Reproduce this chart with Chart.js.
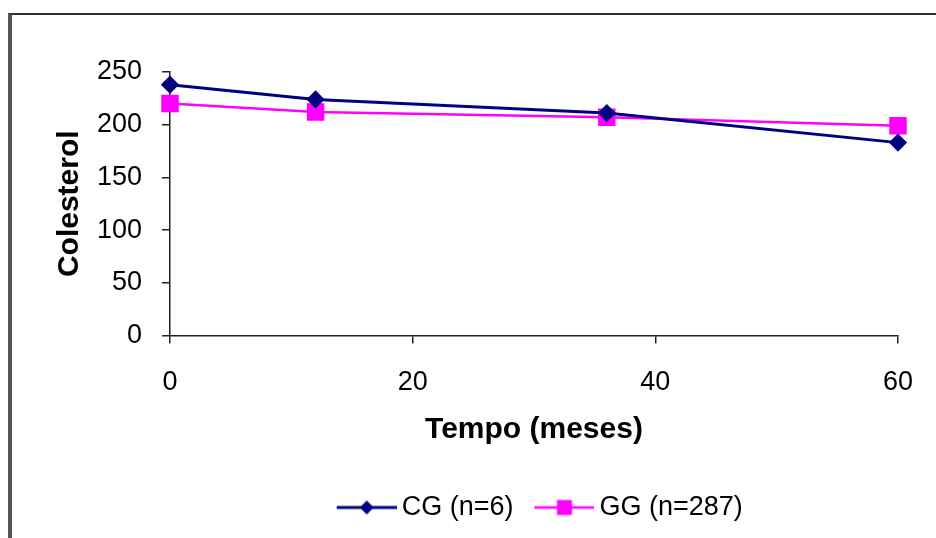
<!DOCTYPE html>
<html>
<head>
<meta charset="utf-8">
<script src="https://cdn.jsdelivr.net/npm/chart.js@4.4.1/dist/chart.umd.min.js"></script>
<style>
  html, body { margin: 0; padding: 0; background: #fff; overflow: hidden; }
  #wrap { position: relative; width: 936px; height: 538px; }
  #frame { position: absolute; left: 8px; top: 13px; width: 1000px; height: 600px;
           border-top: 2px solid #333; border-left: 4px solid #555; pointer-events: none; }
  canvas { position: absolute; left: 0; top: 0; }
</style>
</head>
<body>
<div id="wrap">
  <canvas id="c" width="936" height="538"></canvas>
  <div id="frame"></div>
</div>
<script>
const months = [0, 12, 36, 60];
const cgValues = [238, 224, 211, 183];
const ggValues = [220, 212, 207, 199];
const seriesNames = ['CG (n=6)', 'GG (n=287)'];
const xTitle = 'Tempo (meses)';
const yTitle = 'Colesterol';

const NAVY = '#000080';
const MAGENTA = '#FF00FF';
const FONT = '"Liberation Sans", Arial, sans-serif';

// legend sample: line + marker (transparent margin on the left)
function legendImage(color, style, lineW) {
  const cv = document.createElement('canvas');
  cv.width = 80; cv.height = 20;
  const g = cv.getContext('2d');
  g.strokeStyle = color; g.lineWidth = lineW;
  g.beginPath(); g.moveTo(20, 10); g.lineTo(80, 10); g.stroke();
  g.fillStyle = color;
  g.beginPath();
  if (style === 'diamond') {
    g.moveTo(50, 3); g.lineTo(57, 10); g.lineTo(50, 17); g.lineTo(43, 10); g.closePath();
  } else {
    g.rect(42.5, 2.5, 15, 15);
  }
  g.fill();
  return cv;
}
const legendImgs = [legendImage(NAVY, 'diamond', 3), legendImage(MAGENTA, 'square', 2.5)];

const toXY = (xs, ys) => xs.map((x, i) => ({x: x, y: ys[i]}));

new Chart(document.getElementById('c'), {
  type: 'line',
  data: {
    datasets: [
      { label: seriesNames[0], data: toXY(months, cgValues), borderColor: NAVY, backgroundColor: NAVY,
        borderWidth: 3, pointStyle: 'rectRot', pointRadius: 7, pointHoverRadius: 7, tension: 0, clip: false },
      { label: seriesNames[1], data: toXY(months, ggValues), borderColor: MAGENTA, backgroundColor: MAGENTA,
        borderWidth: 2.5, pointStyle: 'rect', pointRadius: 10.6, pointHoverRadius: 10.6, tension: 0, clip: false }
    ]
  },
  options: {
    responsive: false,
    animation: false,
    layout: { padding: { left: 0, right: 38, top: 72, bottom: 7 } },
    plugins: {
      tooltip: { enabled: false },
      legend: {
        position: 'bottom',
        fullSize: false,
        labels: {
          usePointStyle: true,
          pointStyleWidth: 63,
          padding: 9.5,
          color: '#000',
          font: { family: FONT, size: 27 },
          generateLabels: (chart) => {
            const items = Chart.defaults.plugins.legend.labels.generateLabels(chart);
            items.forEach((it, i) => { it.pointStyle = legendImgs[i]; });
            return items;
          }
        }
      }
    },
    scales: {
      x: {
        type: 'linear', min: 0, max: 60,
        afterFit: (s) => { s.height = 149; },
        ticks: { stepSize: 20, color: '#000', padding: 23, font: { family: FONT, size: 27 } },
        grid: { drawOnChartArea: false, drawTicks: true, tickLength: 8, color: '#222', lineWidth: 1.5 },
        border: { display: true, color: '#222', width: 1.5 },
        title: { display: true, text: xTitle, color: '#000', padding: { top: 0, bottom: 37 },
                 font: { family: FONT, size: 30, weight: 'bold' } }
      },
      y: {
        min: 0, max: 250,
        afterFit: (s) => { s.width = 170; },
        ticks: { stepSize: 50, color: '#000', padding: 20, font: { family: FONT, size: 27 } },
        grid: { drawOnChartArea: false, drawTicks: true, tickLength: 8, color: '#222', lineWidth: 1.5 },
        border: { display: true, color: '#222', width: 1.5 },
        title: { display: true, text: yTitle, color: '#000', padding: { top: 52, bottom: 0 },
                 font: { family: FONT, size: 30, weight: 'bold' } }
      }
    }
  }
});
</script>
</body>
</html>
